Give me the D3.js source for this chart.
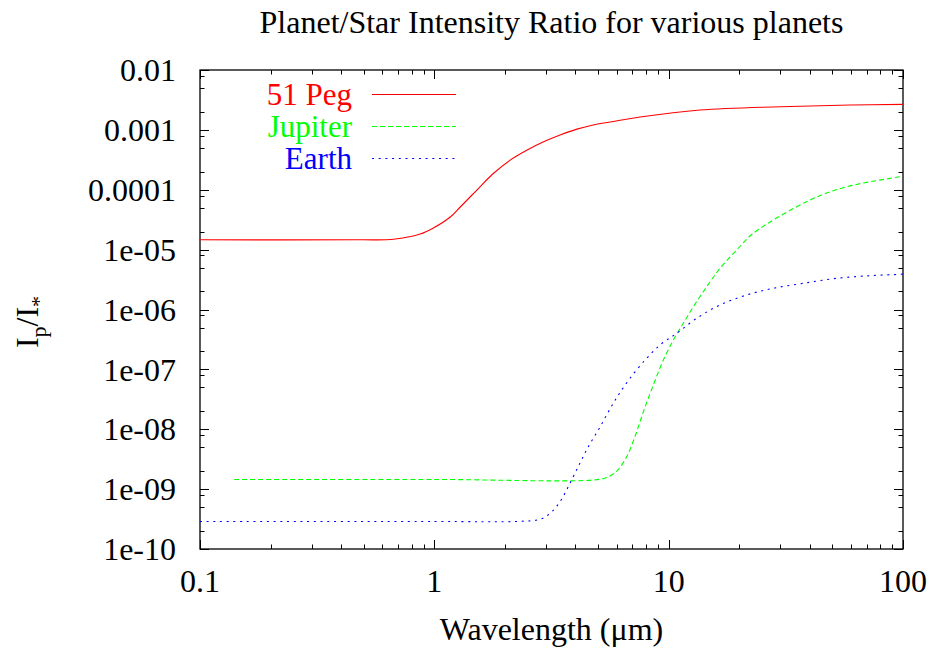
<!DOCTYPE html>
<html>
<head>
<meta charset="utf-8">
<script src="https://cdn.jsdelivr.net/npm/d3@7"></script>
<style>
  body { margin: 0; background: #fff; }
  text { font-family: 'Liberation Serif', 'DejaVu Serif', serif; }
</style>
</head>
<body>
<div id="chart"></div>
<script>
// wavelength (micron) and planet/star ratio
var pegWave = [0.1, 0.48, 0.67, 0.87, 0.99, 1.17, 1.29, 1.52, 1.78, 2.1, 2.49, 2.91, 3.44, 4.06, 4.76, 5.62, 7.55, 13.6, 29.9, 59.4, 100];
var pegRatio = [1.46e-5, 1.46e-5, 1.49e-5, 1.82e-5, 2.3e-5, 3.51e-5, 5.15e-5, 9.9e-5, 1.85e-4, 3.1e-4, 4.61e-4, 6.27e-4, 8.21e-4, 1.03e-3, 1.21e-3, 1.35e-3, 1.64e-3, 2.15e-3, 2.44e-3, 2.6e-3, 2.67e-3];

var jupWave = [0.14, 1.0, 5.09, 5.62, 6.1, 6.62, 7.18, 7.8, 8.6, 9.49, 10.47, 11.55, 12.74, 14.53, 16.56, 19.51, 22.97, 40.1, 57.5, 97.1, 100];
var jupRatio = [1.45e-9, 1.45e-9, 1.46e-9, 1.66e-9, 2.14e-9, 3.48e-9, 7.51e-9, 1.96e-8, 5.48e-8, 1.43e-7, 3.1e-7, 5.88e-7, 1.11e-6, 2.4e-6, 4.88e-6, 9.86e-6, 1.87e-5, 6.74e-5, 1.12e-4, 1.65e-4, 1.68e-4];

var earthWave = [0.1, 1.0, 2.32, 2.82, 3.12, 3.44, 3.79, 4.18, 4.54, 5.01, 5.53, 6.1, 6.84, 7.93, 9.18, 10.82, 13.17, 16.56, 21.53, 27.96, 37.54, 52.1, 72.3, 97.1, 100];
var earthRatio = [2.88e-10, 2.88e-10, 2.9e-10, 3.13e-10, 3.95e-10, 6.17e-10, 1.25e-9, 2.7e-9, 5.12e-9, 9.7e-9, 1.96e-8, 3.73e-8, 7.1e-8, 1.43e-7, 2.55e-7, 4.0e-7, 7.13e-7, 1.19e-6, 1.75e-6, 2.26e-6, 2.74e-6, 3.32e-6, 3.67e-6, 3.87e-6, 3.9e-6];

var seriesNames = ['51 Peg', 'Jupiter', 'Earth'];
var xTickLabels = ['0.1', '1', '10', '100'];
var yTickLabels = ['0.01', '0.001', '0.0001', '1e-05', '1e-06', '1e-07', '1e-08', '1e-09', '1e-10'];

var width = 932, height = 652;
var margin = { top: 70, right: 29, bottom: 103, left: 200 };
var plotW = width - margin.left - margin.right;
var plotH = height - margin.top - margin.bottom;

var x = d3.scaleLog().domain([0.1, 100]).range([0, plotW]);
var y = d3.scaleLog().domain([1e-10, 0.01]).range([plotH, 0]);

var svg = d3.select('#chart')
  .append('svg')
  .attr('width', width)
  .attr('height', height);

var g = svg.append('g')
  .attr('transform', 'translate(' + margin.left + ',' + margin.top + ')');

// ticks, gnuplot style: inward on all four sides
var xMajor = [0.1, 1, 10, 100];
var xMinor = [];
xMajor.slice(0, 3).forEach(function(d) {
  for (var k = 2; k <= 9; k++) xMinor.push(d * k);
});
var yMajor = [0.01, 0.001, 0.0001, 1e-5, 1e-6, 1e-7, 1e-8, 1e-9, 1e-10];
var yMinor = [];
yMajor.slice(1).forEach(function(d) {
  [2, 5, 8].forEach(function(k) { yMinor.push(d * k); });
});

var ticks = g.append('g')
  .attr('stroke', '#000')
  .attr('stroke-width', 1);

function xTicks(vals, len) {
  vals.forEach(function(v) {
    var px = Math.round(x(v)) + 0.5;
    ticks.append('line').attr('x1', px).attr('x2', px).attr('y1', plotH).attr('y2', plotH - len);
    ticks.append('line').attr('x1', px).attr('x2', px).attr('y1', 0).attr('y2', len);
  });
}
function yTicks(vals, len) {
  vals.forEach(function(v) {
    var py = Math.round(y(v)) + 0.5;
    ticks.append('line').attr('x1', 0).attr('x2', len).attr('y1', py).attr('y2', py);
    ticks.append('line').attr('x1', plotW).attr('x2', plotW - len).attr('y1', py).attr('y2', py);
  });
}
xTicks(xMajor, 9);
xTicks(xMinor, 4.5);
yTicks(yMajor, 9);
yTicks(yMinor, 4.5);

g.append('rect')
  .attr('x', 0)
  .attr('y', 0)
  .attr('width', plotW)
  .attr('height', plotH)
  .attr('fill', 'none')
  .attr('stroke', '#000')
  .attr('stroke-width', 1.3);

// tick labels
g.selectAll('.xlab')
  .data(xMajor)
  .enter()
  .append('text')
  .attr('class', 'xlab')
  .attr('x', function(d) { return x(d); })
  .attr('y', plotH + 43)
  .attr('text-anchor', 'middle')
  .attr('font-size', 32)
  .text(function(d, i) { return xTickLabels[i]; });

g.selectAll('.ylab')
  .data(yMajor)
  .enter()
  .append('text')
  .attr('class', 'ylab')
  .attr('x', -24)
  .attr('y', function(d) { return y(d); })
  .attr('dy', '0.35em')
  .attr('text-anchor', 'end')
  .attr('font-size', 32)
  .text(function(d, i) { return yTickLabels[i]; });

// curves
var series = [
  { name: seriesNames[0], wave: pegWave, ratio: pegRatio, color: '#ff0000', dash: null },
  { name: seriesNames[1], wave: jupWave, ratio: jupRatio, color: '#00ff00', dash: '5,3' },
  { name: seriesNames[2], wave: earthWave, ratio: earthRatio, color: '#0000ff', dash: '2,4.7' }
];

var line = d3.line()
  .x(function(d) { return x(d[0]); })
  .y(function(d) { return y(d[1]); })
  .curve(d3.curveCatmullRom.alpha(0.5));

g.selectAll('.curve')
  .data(series)
  .enter()
  .append('path')
  .attr('class', 'curve')
  .attr('d', function(s) {
    return line(s.wave.map(function(w, i) { return [w, s.ratio[i]]; }));
  })
  .attr('fill', 'none')
  .attr('stroke', function(s) { return s.color; })
  .attr('stroke-width', 1.1)
  .attr('stroke-dasharray', function(s) { return s.dash; });

// legend
var legend = g.selectAll('.legend')
  .data(series)
  .enter()
  .append('g')
  .attr('class', 'legend')
  .attr('transform', function(d, i) {
    return 'translate(0,' + (24 + i * 32) + ')';
  });

legend.append('text')
  .attr('x', 152)
  .attr('dy', '0.35em')
  .attr('text-anchor', 'end')
  .attr('font-size', 31)
  .attr('fill', function(s) { return s.color; })
  .text(function(s) { return s.name; });

legend.append('line')
  .attr('x1', 172)
  .attr('x2', 256)
  .attr('y1', 0.5)
  .attr('y2', 0.5)
  .attr('stroke', function(s) { return s.color; })
  .attr('stroke-width', 1.1)
  .attr('stroke-dasharray', function(s) { return s.dash; });

// title and axis labels
svg.append('text')
  .attr('x', margin.left + plotW / 2)
  .attr('y', 33)
  .attr('text-anchor', 'middle')
  .attr('font-size', 32)
  .text('Planet/Star Intensity Ratio for various planets');

svg.append('text')
  .attr('x', margin.left + plotW / 2)
  .attr('y', 640)
  .attr('text-anchor', 'middle')
  .attr('font-size', 32)
  .text('Wavelength (\u03bcm)');

var ylab = svg.append('text')
  .attr('transform', 'translate(38,322) rotate(-90)')
  .attr('text-anchor', 'middle')
  .attr('font-size', 32);
ylab.append('tspan').text('I');
ylab.append('tspan').attr('font-size', 22).attr('dy', 8).text('p');
ylab.append('tspan').attr('dy', -8).text('/I');
ylab.append('tspan').attr('font-size', 22).attr('dy', 8).text('*');
</script>
</body>
</html>
